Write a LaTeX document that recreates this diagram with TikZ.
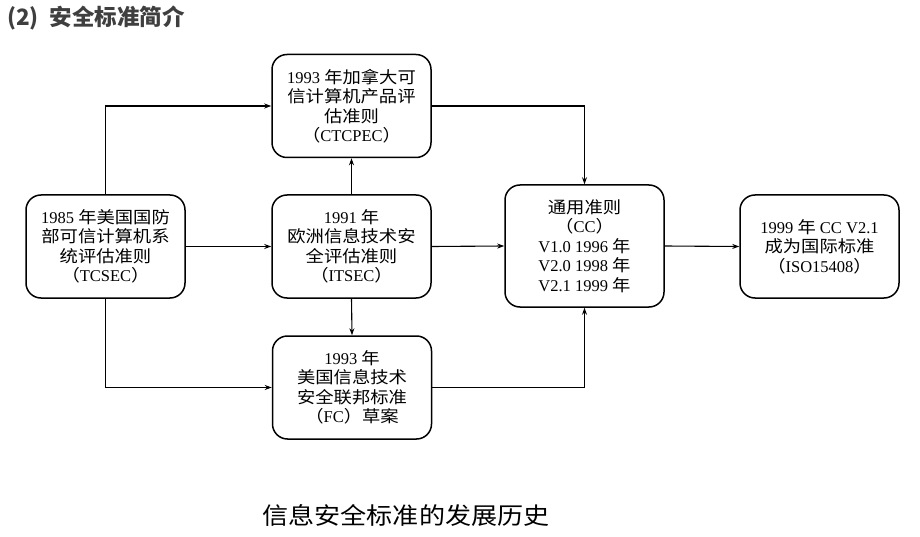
\documentclass[tikz,border=0pt]{standalone}
\usepackage{fontspec}
\setmainfont{Liberation Serif}
\newfontfamily\cjk[FakeStretch=1.11]{Noto Sans CJK SC}
\newfontfamily\cjktitle{Noto Sans CJK SC}
\newcommand{\zh}[1]{{\cjk #1}}
\usetikzlibrary{arrows.meta}
\definecolor{titlegray}{HTML}{3F3F3F}
\tikzset{
	stdbox/.style={draw, line width=1.5pt, rounded corners=15pt, minimum width=159pt, minimum height=103pt, inner sep=0pt, align=center, font=\fontsize{16.5}{19.5}\selectfont},
	arr/.style={-{Stealth[length=7pt,width=5pt]}, line width=1.1pt}
}
\begin{document}
\begin{tikzpicture}[x=1pt,y=-1pt]
	\useasboundingbox (0,0) rectangle (920,537);
	\node[anchor=west, inner sep=0pt, text=titlegray, font=\cjktitle\bfseries\fontsize{22.5}{24}\selectfont](title) at (7,18){(2)\hspace{11pt}安全标准简介};
	\node[stdbox](tcsec) at (105.5,246.5){1985 \zh{年美国国防}\\\zh{部可信计算机系}\\\zh{统评估准则}\\\zh{（}TCSEC\zh{）}};
	\node[stdbox](ctcpec) at (351.5,106){1993 \zh{年加拿大可}\\\zh{信计算机产品评}\\\zh{估准则}\\\zh{（}CTCPEC\zh{）}};
	\node[stdbox](itsec) at (351.5,246.5){1991 \zh{年}\\\zh{欧洲信息技术安}\\\zh{全评估准则}\\\zh{（}ITSEC\zh{）}};
	\node[stdbox](fc) at (352,387.5){1993 \zh{年}\\\zh{美国信息技术}\\\zh{安全联邦标准}\\\zh{（}FC\zh{）草案}};
	\node[stdbox, minimum height=122pt](cc) at (584.5,246){\zh{通用准则}\\\zh{（}CC\zh{）}\\V1.0 1996 \zh{年}\\V2.0 1998 \zh{年}\\V2.1 1999 \zh{年}};
	\node[stdbox](iso) at (819.5,246.5){1999 \zh{年} CC V2.1\\\zh{成为国际标准}\\\zh{（}ISO15408\zh{）}};
	\node[font=\cjk\fontsize{23.5}{25}\selectfont](caption) at (406,515){信息安全标准的发展历史};
	% connectors
	\draw[arr](tcsec.north) |- (ctcpec.west);
	\draw[arr](tcsec.east) -- (itsec.west);
	\draw[arr](tcsec.south) |- (fc.west);
	\draw[arr](itsec.north) -- (ctcpec.south);
	\draw[arr](itsec.south) -- (fc.north);
	\draw[arr](ctcpec.east) -| (cc.north);
	\draw[arr](itsec.east) -- (cc.west);
	\draw[arr](fc.east) -| (cc.south);
	\draw[arr](cc.east) -- (iso.west);
\end{tikzpicture}
\end{document}
